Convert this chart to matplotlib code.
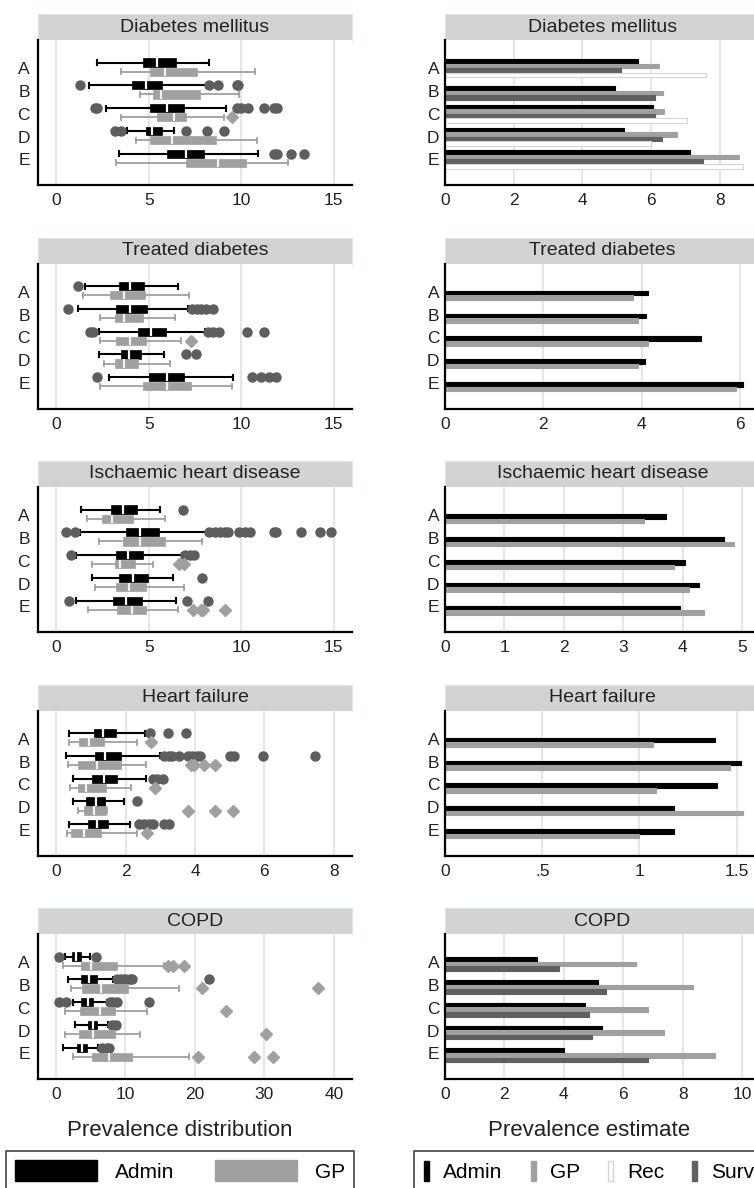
import numpy as np
import matplotlib.pyplot as plt
from matplotlib.patches import Patch

plt.rcParams['font.family'] = ['Liberation Sans', 'DejaVu Sans']

W, H = 754, 1188
nan = np.nan

regions = ['A', 'B', 'C', 'D', 'E']
diseases = ['Diabetes mellitus', 'Treated diabetes', 'Ischaemic heart disease',
            'Heart failure', 'COPD']

# boxplot stats per region: [whisker lo, q1, median, q3, whisker hi]
dm_admin = [[2.22, 4.70, 5.44, 6.45, 8.28], [1.77, 4.10, 4.83, 5.73, 8.13],
            [2.66, 5.06, 5.96, 6.89, 9.18], [3.80, 4.83, 5.15, 5.71, 6.36],
            [3.40, 5.96, 7.01, 8.01, 10.93]]
dm_admin_out = [[], [1.27, 8.28, 8.77, 9.76, 9.85],
                [2.08, 2.20, 9.76, 9.98, 10.39, 11.24, 11.75, 11.93],
                [3.16, 3.52, 6.99, 8.17, 9.07], [11.75, 11.96, 12.71, 13.41]]
dm_gp = [[3.52, 5.06, 5.89, 7.63, 10.75], [4.52, 5.24, 5.66, 7.77, 9.90],
         [3.47, 5.42, 6.38, 6.99, 9.07], [4.30, 5.06, 6.27, 8.62, 10.84],
         [3.20, 7.01, 8.77, 10.25, 12.52]]
dm_gp_out = [[], [], [9.49], [], []]

td_admin = [[1.54, 3.38, 3.98, 4.74, 6.60], [1.14, 3.22, 3.98, 4.88, 7.14],
            [2.30, 4.39, 5.10, 5.91, 8.04], [2.31, 3.52, 3.94, 4.55, 5.82],
            [2.86, 5.02, 5.96, 6.89, 9.54]]
td_admin_out = [[1.14], [0.63, 7.32, 7.59, 7.83, 8.10, 8.49],
                [1.81, 1.99, 8.22, 8.49, 8.82, 10.30, 11.21],
                [6.99, 7.54], [2.22, 10.57, 11.06, 11.48, 11.89]]
td_gp = [[1.45, 2.89, 3.67, 4.79, 7.19], [2.35, 3.16, 3.67, 4.66, 6.42],
         [2.35, 3.22, 3.98, 4.83, 6.74], [2.58, 3.16, 3.67, 4.43, 6.14],
         [2.35, 4.66, 5.96, 7.27, 9.49]]
td_gp_out = [[], [], [7.27], [], []]

ihd_admin = [[1.32, 2.95, 3.61, 4.34, 5.60], [1.27, 3.74, 4.52, 5.57, 8.13],
             [1.08, 3.20, 3.89, 4.70, 6.78], [1.90, 3.38, 4.16, 4.93, 6.33],
             [1.05, 3.07, 3.76, 4.61, 6.47]]
ihd_admin_out = [[6.83],
                 [0.51, 0.99, 8.28, 8.58, 8.86, 9.13, 9.31, 9.89, 10.18, 10.48,
                  11.75, 11.89, 13.25, 14.28, 14.87],
                 [0.78, 6.96, 7.23, 7.46], [7.90], [0.67, 7.05, 8.22]]
ihd_gp = [[1.66, 2.48, 2.98, 4.12, 5.87], [2.30, 3.58, 4.52, 5.87, 7.86],
          [1.95, 3.16, 3.43, 4.25, 5.24], [2.08, 3.20, 3.94, 4.84, 6.90],
          [1.68, 3.29, 4.07, 4.83, 6.60]]
ihd_gp_out = [[], [], [6.63, 6.92], [], [7.37, 7.83, 7.95, 9.13]]

hf_admin = [[0.375, 1.10, 1.34, 1.72, 2.55], [0.29, 1.11, 1.41, 1.87, 3.00],
            [0.48, 1.04, 1.37, 1.75, 2.60], [0.48, 0.86, 1.15, 1.41, 1.96],
            [0.375, 0.90, 1.17, 1.48, 2.13]]
hf_admin_out = [[2.71, 3.21, 3.75],
                [3.10, 3.24, 3.34, 3.55, 3.80, 3.91, 4.06, 4.15, 5.00, 5.12, 5.95, 7.45],
                [2.79, 2.90, 3.08], [2.33], [2.38, 2.52, 2.66, 2.78, 3.10, 3.24]]
hf_gp = [[0.375, 0.64, 0.93, 1.37, 2.33], [0.33, 0.62, 1.17, 1.87, 2.60],
         [0.40, 0.62, 0.86, 1.44, 2.16], [0.63, 0.79, 1.08, 1.44, 1.46],
         [0.31, 0.43, 0.81, 1.29, 2.33]]
hf_gp_out = [[2.73], [3.88, 3.98, 4.25, 4.57], [2.86], [3.79, 4.57, 5.09], [2.62]]

copd_admin = [[1.30, 2.36, 2.98, 3.70, 4.90], [1.78, 3.70, 4.81, 5.96, 8.27],
              [2.50, 3.70, 4.57, 5.38, 7.31], [2.74, 4.66, 5.29, 5.87, 7.55],
              [1.06, 3.08, 3.80, 4.52, 6.11]]
copd_admin_out = [[0.48, 5.77], [8.75, 9.33, 9.95, 10.67, 10.90, 21.97],
                  [0.48, 1.54, 7.79, 8.27, 8.75, 13.46], [8.03, 8.65],
                  [6.59, 7.31, 7.69]]
copd_gp = [[1.06, 3.61, 5.00, 8.75, 15.5], [2.26, 3.80, 6.49, 10.34, 17.79],
           [1.30, 3.46, 6.35, 8.51, 13.17], [1.30, 3.32, 5.38, 8.51, 12.12],
           [2.50, 5.24, 7.69, 11.00, 19.23]]
copd_gp_out = [[16.2, 16.8, 18.4], [21.0, 37.7], [24.5], [30.3], [20.4, 28.5, 31.25]]

# prevalence estimates
dm_est_admin = [5.62, 4.94, 6.05, 5.21, 7.13]
dm_est_gp = [6.23, 6.35, 6.37, 6.75, 8.56]
dm_est_sur = [5.12, 6.11, 6.11, 6.32, 7.51]
dm_est_rec = [7.59, nan, 7.04, 6.00, 8.67]
td_est_admin = [4.13, 4.10, 5.21, 4.08, 6.06]
td_est_gp = [3.82, 3.92, 4.14, 3.92, 5.93]
ihd_est_admin = [3.71, 4.69, 4.03, 4.27, 3.95]
ihd_est_gp = [3.34, 4.87, 3.85, 4.10, 4.35]
hf_est_admin = [1.39, 1.52, 1.40, 1.177, 1.177]
hf_est_gp = [1.07, 1.466, 1.084, 1.533, 0.998]
copd_est_admin = [3.08, 5.14, 4.70, 5.28, 4.02]
copd_est_gp = [6.43, 8.35, 6.83, 7.37, 9.10]
copd_est_sur = [3.82, 5.41, 4.84, 4.94, 6.83]

c_admin = '#000000'
c_gp = '#a0a0a0'
c_sur = '#606060'
c_rec = '#ffffff'
c_out = '#5e5e5e'
c_grid = '#e4e4e4'

box_sets = [(dm_admin, dm_admin_out, dm_gp, dm_gp_out),
            (td_admin, td_admin_out, td_gp, td_gp_out),
            (ihd_admin, ihd_admin_out, ihd_gp, ihd_gp_out),
            (hf_admin, hf_admin_out, hf_gp, hf_gp_out),
            (copd_admin, copd_admin_out, copd_gp, copd_gp_out)]
bar_sets = [[(dm_est_admin, c_admin, c_admin), (dm_est_gp, c_gp, c_gp),
             (dm_est_sur, c_sur, c_sur), (dm_est_rec, c_rec, '#d4d4d4')],
            [(td_est_admin, c_admin, c_admin), (td_est_gp, c_gp, c_gp)],
            [(ihd_est_admin, c_admin, c_admin), (ihd_est_gp, c_gp, c_gp)],
            [(hf_est_admin, c_admin, c_admin), (hf_est_gp, c_gp, c_gp)],
            [(copd_est_admin, c_admin, c_admin), (copd_est_gp, c_gp, c_gp),
             (copd_est_sur, c_sur, c_sur)]]

left_xlim = [(-1, 16), (-1, 16), (-1, 16), (-0.53, 8.53), (-2.55, 42.6)]
left_ticks = [[0, 5, 10, 15]] * 3 + [[0, 2, 4, 6, 8], [0, 10, 20, 30, 40]]
right_xlim = [(0, 9.17), (0, 6.41), (0, 5.30), (0, 1.62), (0, 10.6)]
right_ticks = [[0, 2, 4, 6, 8], [0, 2, 4, 6], [0, 1, 2, 3, 4, 5],
               [0, 0.5, 1, 1.5], [0, 2, 4, 6, 8, 10]]
right_ticklabels = [None, None, None, ['0', '.5', '1', '1.5'], None]

fig = plt.figure(figsize=(W / 100, H / 100), dpi=100)


def px_axes(x0, y0, x1, y1):
    return fig.add_axes([x0 / W, 1 - y1 / H, (x1 - x0) / W, (y1 - y0) / H])


def strip(x0, y0, x1, y1, title):
    s = px_axes(x0, y0, x1, y1)
    s.set_facecolor('#d3d3d3')
    s.set_xticks([])
    s.set_yticks([])
    for sp in s.spines.values():
        sp.set_color('#dbe6ea')
        sp.set_linewidth(0.8)
    s.text(0.5, 0.5, title, ha='center', va='center', fontsize=14,
           color='#222222', transform=s.transAxes)


def style(ax, ypad):
    ax.set_ylim(5.12, -1.24)
    ax.set_yticks(range(len(regions)))
    ax.set_yticklabels(regions)
    ax.tick_params(axis='both', length=0, labelsize=12.5, colors='#222222')
    ax.tick_params(axis='y', pad=ypad)
    ax.tick_params(axis='x', pad=6)
    ax.grid(axis='x', color=c_grid, linewidth=1.3)
    ax.set_axisbelow(True)
    for side in ['top', 'right']:
        ax.spines[side].set_visible(False)
    for side in ['left', 'bottom']:
        ax.spines[side].set_linewidth(1.6)


def box_stats(rows, outs):
    return [dict(whislo=r[0], q1=r[1], med=r[2], q3=r[3], whishi=r[4], fliers=o)
            for r, o in zip(rows, outs)]


pos = np.arange(len(regions))
bar_h = 0.2

for row in range(5):
    top = 14 + row * 223.5
    strip(38, top, 352, top + 26, diseases[row])
    strip(445, top, 760, top + 26, diseases[row])

    # left: distribution boxplots
    ax = px_axes(38, top + 26, 352, top + 171)
    adm, adm_out, gp, gp_out = box_sets[row]
    ax.bxp(box_stats(adm, adm_out), positions=pos - 0.25, widths=0.36,
           orientation='horizontal', patch_artist=True, manage_ticks=False,
           capwidths=0.22,
           boxprops=dict(facecolor=c_admin, edgecolor=c_admin, linewidth=0.5),
           medianprops=dict(color='white', linewidth=1.6),
           whiskerprops=dict(color=c_admin, linewidth=1.5),
           capprops=dict(color=c_admin, linewidth=1.5),
           flierprops=dict(marker='o', markerfacecolor=c_out,
                           markeredgecolor=c_out, markersize=6.5))
    ax.bxp(box_stats(gp, gp_out), positions=pos + 0.15, widths=0.36,
           orientation='horizontal', patch_artist=True, manage_ticks=False,
           capwidths=0.22,
           boxprops=dict(facecolor=c_gp, edgecolor=c_gp, linewidth=0.5),
           medianprops=dict(color='#f2f2f2', linewidth=1.6),
           whiskerprops=dict(color=c_gp, linewidth=1.3),
           capprops=dict(color=c_gp, linewidth=1.3),
           flierprops=dict(marker='D', markerfacecolor=c_gp,
                           markeredgecolor=c_gp, markersize=6.5))
    ax.set_xlim(*left_xlim[row])
    ax.set_xticks(left_ticks[row])
    style(ax, 6)

    # right: prevalence estimates
    bx = px_axes(445, top + 26, 760, top + 171)
    series = bar_sets[row]
    for i in range(len(regions)):
        present = [(v[i], fc, ec) for v, fc, ec in series if not np.isnan(v[i])]
        n = len(present)
        centre = i + (4 - n) * 0.08
        for k, (val, fc, ec) in enumerate(present):
            bx.barh(centre + (k - (n - 1) / 2) * bar_h, val, height=bar_h,
                    color=fc, edgecolor=ec, linewidth=0.8)
    bx.set_xlim(*right_xlim[row])
    bx.set_xticks(right_ticks[row])
    if right_ticklabels[row]:
        bx.set_xticklabels(right_ticklabels[row])
    style(bx, 4)

fig.text(180 / W, 1 - 1130 / H, 'Prevalence distribution', ha='center',
         va='center', fontsize=16, color='#222222')
fig.text(589 / W, 1 - 1130 / H, 'Prevalence estimate', ha='center',
         va='center', fontsize=16, color='#222222')

leg1 = fig.legend(handles=[Patch(facecolor=c_admin, edgecolor=c_admin),
                           Patch(facecolor=c_gp, edgecolor=c_gp)],
                  labels=['Admin', 'GP'], loc='upper left',
                  bbox_to_anchor=(6 / W, 1 - 1151 / H), ncol=2, fontsize=15,
                  frameon=True, fancybox=False, edgecolor='black',
                  handlelength=3.94, handleheight=1.2, handletextpad=0.87,
                  columnspacing=1.92, borderpad=0.43, borderaxespad=0)
leg1.get_frame().set_linewidth(1.1)

leg2 = fig.legend(handles=[Patch(facecolor=c_admin, edgecolor=c_admin),
                           Patch(facecolor=c_gp, edgecolor=c_gp),
                           Patch(facecolor=c_rec, edgecolor='#d4d4d4'),
                           Patch(facecolor=c_sur, edgecolor=c_sur)],
                  labels=['Admin', 'GP', 'Rec', 'Survey'], loc='upper left',
                  bbox_to_anchor=(414 / W, 1 - 1151 / H), ncol=4, fontsize=15,
                  frameon=True, fancybox=False, edgecolor='black',
                  handlelength=0.24, handleheight=1.06, handletextpad=0.67,
                  columnspacing=1.35, borderpad=0.5, borderaxespad=0)
leg2.get_frame().set_linewidth(1.1)

fig.savefig('out.png', dpi=100)
